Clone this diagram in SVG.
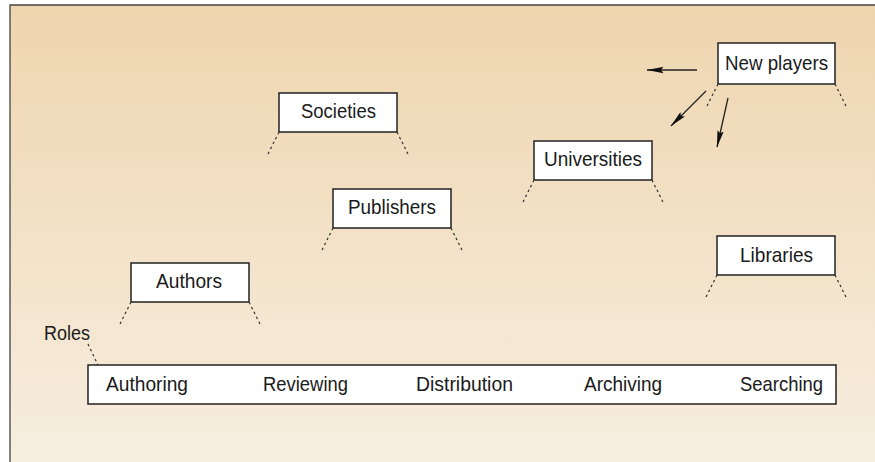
<svg xmlns="http://www.w3.org/2000/svg" width="875" height="462" viewBox="0 0 875 462">
  <defs>
    <linearGradient id="bg" x1="0" y1="0" x2="0" y2="1">
      <stop offset="0" stop-color="#eed5ae"/>
      <stop offset="1" stop-color="#f7eee0"/>
    </linearGradient>
    <marker id="arrow" viewBox="0 0 17 7" refX="16.5" refY="3.5" markerWidth="17" markerHeight="7" markerUnits="userSpaceOnUse" orient="auto">
      <path d="M0,0.3 L17,3.5 L0,6.7 L2.5,3.5 Z" fill="#111"/>
    </marker>
  </defs>
  <style>
    .box { fill: #fff; stroke: #222; stroke-width: 1.5; }
    .label { font-family: "Liberation Sans", Arial, sans-serif; font-size: 21px; fill: #1a1a1a; }
    .mid { text-anchor: middle; }
    .leg { stroke: #333; stroke-width: 1.2; stroke-dasharray: 2.5 3; fill: none; }
    .conn { stroke: #222; stroke-width: 1.3; fill: none; marker-end: url(#arrow); }
  </style>

  <!-- backdrop with top and left frame lines -->
  <rect x="0" y="0" width="875" height="462" fill="#ffffff"/>
  <rect x="10" y="5" width="865" height="457" fill="url(#bg)"/>
  <path d="M10,462 L10,5 L875,5" fill="none" stroke="#444" stroke-width="1.3"/>

  <g id="societies">
    <rect class="box" x="279" y="93" width="118" height="39"/>
    <path class="leg" d="M279,132 L268,154 M397,132 L408,154"/>
    <text class="label mid" x="338.5" y="118" textLength="75" lengthAdjust="spacingAndGlyphs">Societies</text>
  </g>

  <g id="publishers">
    <rect class="box" x="333" y="189" width="118" height="39"/>
    <path class="leg" d="M333,228 L322,250 M451,228 L462,250"/>
    <text class="label mid" x="392" y="214" textLength="88" lengthAdjust="spacingAndGlyphs">Publishers</text>
  </g>

  <g id="universities">
    <rect class="box" x="534" y="141" width="118" height="39"/>
    <path class="leg" d="M534,180 L523,202 M652,180 L663,202"/>
    <text class="label mid" x="593" y="166" textLength="98" lengthAdjust="spacingAndGlyphs">Universities</text>
  </g>

  <g id="new-players">
    <rect class="box" x="718" y="43" width="117" height="41"/>
    <path class="leg" d="M718,84 L707,106 M835,84 L846,106"/>
    <text class="label mid" x="776.5" y="70" textLength="103" lengthAdjust="spacingAndGlyphs">New players</text>
  </g>

  <g id="libraries">
    <rect class="box" x="717" y="236" width="118" height="39"/>
    <path class="leg" d="M717,275 L706,297 M835,275 L846,297"/>
    <text class="label mid" x="776.5" y="262" textLength="73" lengthAdjust="spacingAndGlyphs">Libraries</text>
  </g>

  <g id="authors">
    <rect class="box" x="131" y="263" width="118" height="39"/>
    <path class="leg" d="M131,302 L120,324 M249,302 L260,324"/>
    <text class="label mid" x="189" y="288" textLength="66" lengthAdjust="spacingAndGlyphs">Authors</text>
  </g>

  <g id="roles">
    <text class="label" x="44" y="340" textLength="46" lengthAdjust="spacingAndGlyphs">Roles</text>
    <path class="leg" d="M88,344 L98,365"/>
    <rect class="box" x="88" y="365" width="748" height="39"/>
    <text class="label" x="106" y="391" textLength="82" lengthAdjust="spacingAndGlyphs">Authoring</text>
    <text class="label" x="263" y="391" textLength="85" lengthAdjust="spacingAndGlyphs">Reviewing</text>
    <text class="label" x="416" y="391" textLength="97" lengthAdjust="spacingAndGlyphs">Distribution</text>
    <text class="label" x="584" y="391" textLength="78" lengthAdjust="spacingAndGlyphs">Archiving</text>
    <text class="label" x="740" y="391" textLength="83" lengthAdjust="spacingAndGlyphs">Searching</text>
  </g>

  <g id="connectors">
    <path class="conn" d="M697,70 L647,70"/>
    <path class="conn" d="M706,91 L671,126"/>
    <path class="conn" d="M728,98 L717,147"/>
  </g>
</svg>
